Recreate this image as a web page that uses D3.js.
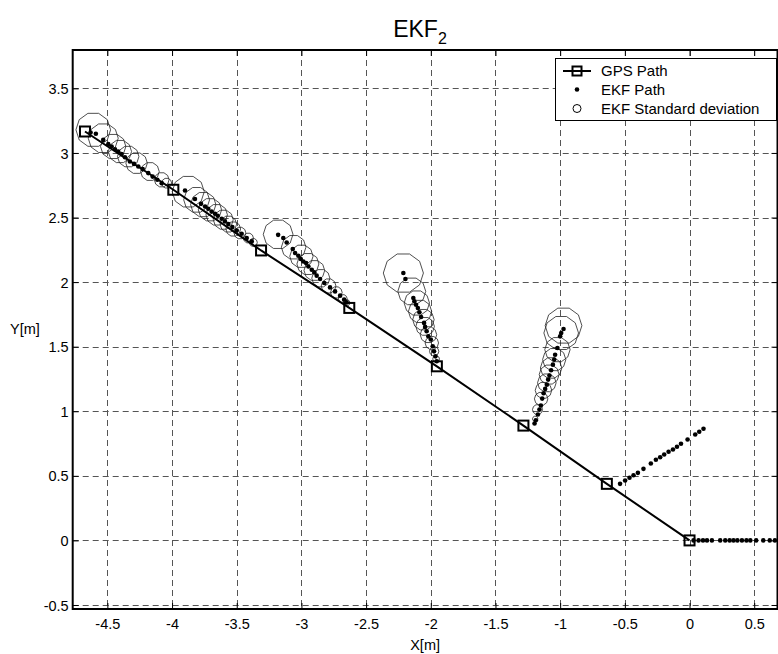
<!DOCTYPE html>
<html>
<head>
<meta charset="utf-8">
<script src="https://cdn.jsdelivr.net/npm/d3@7"></script>
<style>
  body { margin: 0; background: #fff; }
  svg { display: block; font-family: "Liberation Sans", Arial, sans-serif; }
</style>
</head>
<body>
<div id="chart"></div>
<script>
// ---- data ----
const xTicks = [-4.5, -4, -3.5, -3, -2.5, -2, -1.5, -1, -0.5, 0, 0.5]
const yTicks = [-0.5, 0, 0.5, 1, 1.5, 2, 2.5, 3, 3.5]

// GPS fixes
const gpsX = [0, -0.639, -1.284, -1.953, -2.63, -3.312, -3.99, -4.673]
const gpsY = [0, 0.438, 0.889, 1.348, 1.80, 2.245, 2.715, 3.166]

// EKF path, one drift run after every GPS fix
const ekfG = [[0.031,0],[0.07,0],[0.104,0],[0.135,0],[0.173,0],[0.237,0],[0.276,0],[0.31,0],[0.34,0],
  [0.37,0],[0.405,0],[0.44,0],[0.47,0],[0.515,0],[0.57,0],[0.62,0],[0.66,0]]
const ekfF = [[-0.537,0.438],[-0.498,0.464],[-0.464,0.485],[-0.433,0.505],[-0.399,0.523],[-0.356,0.554],
  [-0.299,0.596],[-0.26,0.624],[-0.227,0.644],[-0.196,0.665],[-0.162,0.686],[-0.128,0.704],[-0.097,0.725],
  [-0.066,0.748],[-0.015,0.781],[0.044,0.82],[0.075,0.841],[0.108,0.864]]
const ekfE = [[-1.198,0.905],[-1.188,0.93],[-1.172,0.975],[-1.16,1.013],[-1.149,1.044],[-1.139,1.098],
  [-1.128,1.14],[-1.116,1.173],[-1.103,1.206],[-1.093,1.245],[-1.083,1.276],[-1.07,1.317],[-1.056,1.361],
  [-1.046,1.40],[-1.039,1.438],[-1.021,1.49],[-1.0,1.58],[-0.992,1.606],[-0.974,1.637]]
const ekfD = [[-1.954,1.387],[-1.964,1.425],[-1.975,1.464],[-1.985,1.503],[-2.0,1.555],[-2.019,1.58],
  [-2.032,1.62],[-2.044,1.653],[-2.052,1.684],[-2.075,1.73],[-2.088,1.766],[-2.10,1.80],[-2.114,1.825],
  [-2.127,1.851],[-2.135,1.877],[-2.196,2.024],[-2.212,2.07]]
const ekfC = [[-2.65,1.843],[-2.67,1.864],[-2.701,1.895],[-2.74,1.928],[-2.779,1.959],[-2.823,1.993],
  [-2.856,2.024],[-2.882,2.05],[-2.9,2.075],[-2.92,2.096],[-2.946,2.121],[-2.964,2.147],[-2.985,2.16],
  [-3.005,2.179],[-3.024,2.204],[-3.049,2.225],[-3.067,2.256],[-3.114,2.307],[-3.14,2.341],[-3.18,2.366]]
const ekfB = [[-3.384,2.315],[-3.423,2.341],[-3.462,2.374],[-3.50,2.40],[-3.534,2.426],[-3.565,2.449],
  [-3.591,2.47],[-3.616,2.49],[-3.647,2.514],[-3.668,2.529],[-3.694,2.547],[-3.72,2.568],[-3.745,2.585],
  [-3.776,2.606],[-3.823,2.643],[-3.90,2.709]]
const ekfA = [[-4.08,2.766],[-4.114,2.792],[-4.15,2.817],[-4.184,2.844],[-4.227,2.875],[-4.261,2.895],
  [-4.294,2.915],[-4.326,2.934],[-4.364,2.967],[-4.39,2.991],[-4.416,3.011],[-4.441,3.029],[-4.467,3.05],
  [-4.493,3.068],[-4.532,3.101],[-4.589,3.148],[-4.63,3.158]]
const ekfRuns = [ekfG, ekfF, ekfE, ekfD, ekfC, ekfB, ekfA]

// EKF standard deviation circles: centre x, centre y, radius (m)
const sdX = [-1.193,-1.175,-1.147,-1.129,-1.103,-1.085,-1.07,-1.046,-1.021,-0.992,-0.974,
  -1.959,-1.974,-1.992,-2.018,-2.044,-2.057,-2.083,-2.108,-2.147,-2.212,
  -2.65,-2.68,-2.73,-2.79,-2.85,-2.9,-2.95,-3.0,-3.06,-3.18,
  -3.372,-3.41,-3.475,-3.527,-3.565,-3.604,-3.655,-3.707,-3.759,-3.81,-3.875,
  -4.042,-4.08,-4.171,-4.274,-4.339,-4.403,-4.455,-4.532,-4.609]
const sdY = [0.941,1.013,1.096,1.162,1.22,1.284,1.335,1.40,1.477,1.606,1.663,
  1.405,1.464,1.529,1.593,1.657,1.709,1.773,1.838,1.928,2.07,
  1.84,1.87,1.92,1.97,2.03,2.09,2.14,2.2,2.27,2.37,
  2.307,2.341,2.38,2.411,2.449,2.483,2.521,2.56,2.6,2.637,2.70,
  2.766,2.792,2.856,2.921,2.972,3.011,3.05,3.114,3.179]
const sdR = [0.021,0.039,0.052,0.064,0.072,0.077,0.083,0.09,0.098,0.134,0.142,
  0.026,0.036,0.052,0.064,0.072,0.083,0.09,0.098,0.108,0.155,
  0.025,0.034,0.045,0.057,0.07,0.08,0.085,0.09,0.095,0.115,
  0.031,0.039,0.046,0.057,0.064,0.077,0.083,0.09,0.098,0.10,0.124,
  0.039,0.057,0.072,0.083,0.083,0.09,0.098,0.116,0.134]

// ---- layout ----
const width = 778
const height = 654
const plotLeft = 72.7, plotRight = 777.5, plotTop = 50, plotBottom = 609

const x = d3.scaleLinear().domain([-4.768, 0.68]).range([plotLeft, plotRight])
const y = d3.scaleLinear().domain([-0.531, 3.797]).range([plotBottom, plotTop])

const svg = d3.select("#chart").append("svg")
    .attr("width", width)
    .attr("height", height)

svg.append("rect").attr("x", plotLeft).attr("y", plotTop)
    .attr("width", plotRight - plotLeft).attr("height", plotBottom - plotTop).attr("fill", "#fff")

// grid
const grid = svg.append("g").attr("stroke", "#555").attr("stroke-width", 1)
    .attr("stroke-dasharray", "6,4").attr("fill", "none")
grid.selectAll("line.gx").data(xTicks).join("line").attr("class", "gx")
    .attr("x1", (d) => Math.round(x(d)) + 0.5).attr("x2", (d) => Math.round(x(d)) + 0.5)
    .attr("y1", plotTop).attr("y2", plotBottom)
grid.selectAll("line.gy").data(yTicks).join("line").attr("class", "gy")
    .attr("y1", (d) => Math.round(y(d)) + 0.5).attr("y2", (d) => Math.round(y(d)) + 0.5)
    .attr("x1", plotLeft).attr("x2", plotRight)

// axes (MATLAB style: ticks inside, box); plain hyphen for minus
const fmt = (d) => String(d)
const tickLen = 6
const xAxis = d3.axisBottom(x).tickValues(xTicks).tickSize(-tickLen).tickPadding(10).tickFormat(fmt)
const yAxis = d3.axisLeft(y).tickValues(yTicks).tickSize(-tickLen).tickPadding(4).tickFormat(fmt)

const gx = svg.append("g").attr("transform", `translate(0,${plotBottom})`).call(xAxis)
const gy = svg.append("g").attr("transform", `translate(${plotLeft},0)`).call(yAxis)
svg.append("g").attr("transform", `translate(0,${plotTop})`)
    .call(d3.axisTop(x).tickValues(xTicks).tickSize(-tickLen).tickFormat(""))
svg.append("g").attr("transform", `translate(${plotRight},0)`)
    .call(d3.axisRight(y).tickValues(yTicks).tickSize(-tickLen).tickFormat(""))
svg.selectAll(".domain").remove()
svg.selectAll(".tick line").attr("stroke", "#000").attr("stroke-width", 1)
svg.selectAll(".tick text").attr("font-size", 14.5).attr("fill", "#000")
    .attr("font-family", "Liberation Sans, Arial, sans-serif")
gy.selectAll(".tick text").attr("dy", "0.35em")

// data layer, clipped to the axes
svg.append("clipPath").attr("id", "clip").append("rect")
    .attr("x", plotLeft).attr("y", plotTop).attr("width", plotRight - plotLeft).attr("height", plotBottom - plotTop)
const plot = svg.append("g").attr("clip-path", "url(#clip)")

// std-dev circles, drawn as coarse polygons like the original
const nSides = 10
const polygon = (cx, cy, r) => {
    const rp = x(r) - x(0)
    const pts = d3.range(nSides + 1).map((i) => {
        const a = (i / nSides) * 2 * Math.PI
        return [x(cx) + rp * Math.cos(a), y(cy) - rp * Math.sin(a)]
    })
    return d3.line()(pts)
}
plot.append("g").selectAll("path").data(d3.range(sdX.length)).join("path")
    .attr("d", (i) => polygon(sdX[i], sdY[i], sdR[i]))
    .attr("fill", "none").attr("stroke", "#222").attr("stroke-width", 0.8)

// GPS path
const gps = gpsX.map((d, i) => [d, gpsY[i]])
plot.append("path").datum(gps)
    .attr("d", d3.line().x((d) => x(d[0])).y((d) => y(d[1])))
    .attr("fill", "none").attr("stroke", "#000").attr("stroke-width", 2)
plot.append("g").selectAll("rect").data(gps).join("rect")
    .attr("x", (d) => x(d[0]) - 5).attr("y", (d) => y(d[1]) - 5)
    .attr("width", 10).attr("height", 10)
    .attr("fill", "none").attr("stroke", "#000").attr("stroke-width", 2)

// EKF path
plot.append("g").selectAll("circle").data(ekfRuns.flat()).join("circle")
    .attr("cx", (d) => x(d[0])).attr("cy", (d) => y(d[1])).attr("r", 2.3)
    .attr("fill", "#000")

// box
svg.append("rect").attr("x", plotLeft).attr("y", plotTop)
    .attr("width", plotRight - plotLeft).attr("height", plotBottom - plotTop)
    .attr("fill", "none").attr("stroke", "#000").attr("stroke-width", 2)

// title and labels
const title = svg.append("text").attr("x", 420).attr("y", 37)
    .attr("text-anchor", "middle").attr("font-size", 23).attr("fill", "#000")
title.append("tspan").text("EKF")
title.append("tspan").attr("font-size", 16).attr("dy", 7).text("2")

svg.append("text").attr("x", (plotLeft + plotRight) / 2).attr("y", 650)
    .attr("text-anchor", "middle").attr("font-size", 14.5).text("X[m]")
svg.append("text").attr("x", 10).attr("y", 334)
    .attr("font-size", 14.5).text("Y[m]")

// legend
const lg = svg.append("g")
lg.append("rect").attr("x", 555.5).attr("y", 58.5).attr("width", 221).attr("height", 62)
    .attr("fill", "#fff").attr("stroke", "#000").attr("stroke-width", 1)
const rows = [71, 89.5, 108.5]
lg.append("line").attr("x1", 563).attr("x2", 591).attr("y1", rows[0]).attr("y2", rows[0])
    .attr("stroke", "#000").attr("stroke-width", 2)
lg.append("rect").attr("x", 572.5).attr("y", rows[0] - 4.5).attr("width", 9).attr("height", 9)
    .attr("fill", "none").attr("stroke", "#000").attr("stroke-width", 2)
lg.append("circle").attr("cx", 577).attr("cy", rows[1]).attr("r", 2.3).attr("fill", "#000")
lg.append("circle").attr("cx", 577).attr("cy", rows[2]).attr("r", 4)
    .attr("fill", "none").attr("stroke", "#000").attr("stroke-width", 1)
lg.selectAll("text").data(["GPS Path", "EKF Path", "EKF Standard deviation"]).join("text")
    .attr("x", 601).attr("y", (d, i) => rows[i]).attr("dy", "0.35em")
    .attr("font-size", 15).attr("fill", "#000").text((d) => d)
</script>
</body>
</html>
